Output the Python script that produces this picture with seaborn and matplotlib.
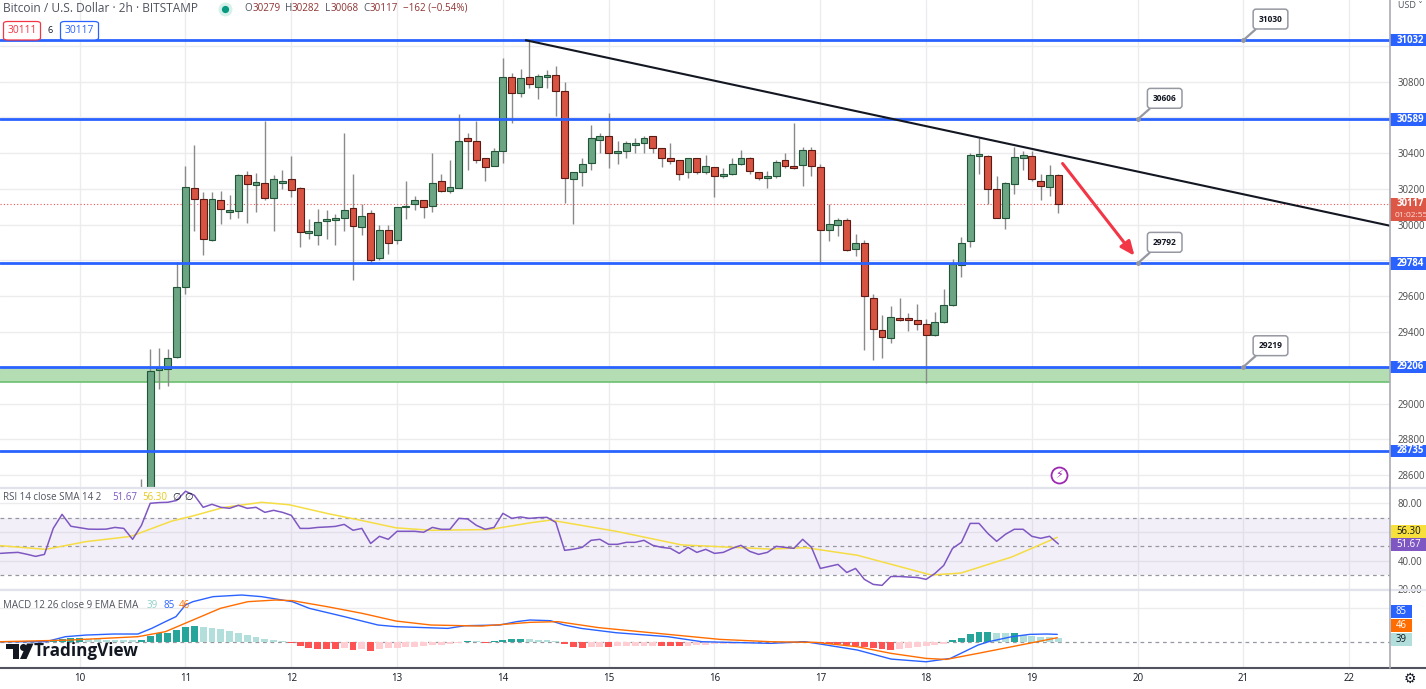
import numpy as np
import pandas as pd
import matplotlib
matplotlib.use("Agg")
import matplotlib.pyplot as plt
import matplotlib.transforms as mtransforms
from matplotlib.patches import Rectangle, FancyBboxPatch, Polygon
from matplotlib.lines import Line2D
import seaborn as sns

W, H = 1426, 689

# ---- candles, 2h, first visible one is 10th 14:00 ----
CANDLE_START = 10 + 14 / 24
opens = [28380, 28450, 29190, 29193, 29260, 29653, 30207, 30146, 29916, 30140,
         30073, 30078, 30280, 30224, 30235, 30151, 30235, 30258, 30207, 29955,
         29944, 30022, 30028, 30040, 30095, 29989, 30067, 29815, 29972, 29916,
         30100, 30118, 30140, 30106, 30246, 30190, 30207, 30482, 30465, 30370,
         30330, 30414, 30823, 30734, 30823, 30767, 30823, 30835, 30750, 30258,
         30297, 30347, 30476, 30498, 30403, 30414, 30448, 30459, 30493, 30426,
         30375, 30364, 30297, 30370, 30297, 30325, 30274, 30286, 30342, 30375,
         30297, 30263, 30274, 30364, 30325, 30336, 30420, 30325, 29972, 30000,
         30028, 29866, 29899, 29591, 29412, 29367, 29479, 29479, 29468, 29445,
         29384, 29457, 29552, 29776, 29910, 30386, 30386, 30202, 30039, 30230,
         30375, 30386, 30246, 30213, 30279]
highs = [28577, 29305, 29310, 29305, 29790, 30330, 30443, 30180, 30180, 30190,
         30168, 30285, 30302, 30291, 30577, 30275, 30308, 30386, 30212, 30034,
         30090, 30084, 30062, 30510, 30286, 30118, 30084, 30000, 30000, 30101,
         30246, 30162, 30140, 30398, 30286, 30364, 30616, 30510, 30577, 30370,
         30431, 30930, 30846, 30868, 31030, 30845, 30863, 30885, 30795, 30297,
         30370, 30555, 30510, 30622, 30470, 30470, 30487, 30498, 30498, 30426,
         30454, 30364, 30375, 30375, 30392, 30325, 30319, 30375, 30420, 30380,
         30297, 30302, 30364, 30398, 30566, 30437, 30437, 30342, 30118, 30039,
         30035, 29950, 29916, 29613, 29496, 29546, 29591, 29507, 29557, 29473,
         29513, 29641, 29810, 29933, 30398, 30482, 30392, 30274, 30240, 30437,
         30414, 30414, 30286, 30336, 30282]
lows = [28300, 28420, 29080, 29100, 29255, 29613, 29966, 29832, 29910, 30005,
        30034, 30040, 30011, 30073, 30140, 29966, 30202, 30157, 29877, 29922,
        29888, 29921, 29888, 29966, 29692, 29944, 29780, 29804, 29838, 29894,
        30034, 30084, 30040, 30073, 30185, 30179, 30207, 30308, 30347, 30246,
        30330, 30347, 30571, 30711, 30762, 30700, 30762, 30610, 30123, 30005,
        30218, 30308, 30403, 30319, 30342, 30375, 30403, 30403, 30403, 30325,
        30342, 30252, 30263, 30286, 30286, 30157, 30263, 30280, 30336, 30286,
        30252, 30207, 30263, 30319, 30314, 30218, 30274, 29782, 29910, 29938,
        29855, 29826, 29300, 29244, 29255, 29339, 29460, 29406, 29412, 29115,
        29380, 29452, 29548, 29708, 29877, 30286, 30118, 30035, 29978, 30174,
        30308, 30246, 30140, 30162, 30068]
closes = [28450, 29182, 29200, 29255, 29653, 30213, 30146, 29922, 30146, 30090,
          30084, 30280, 30230, 30241, 30151, 30258, 30246, 30196, 29960, 29960,
          30017, 30034, 30040, 30084, 29994, 30050, 29804, 29972, 29899, 30101,
          30106, 30140, 30101, 30235, 30190, 30213, 30470, 30465, 30364, 30325,
          30414, 30823, 30734, 30818, 30784, 30829, 30835, 30750, 30263, 30297,
          30342, 30482, 30498, 30403, 30414, 30454, 30459, 30487, 30426, 30375,
          30358, 30286, 30370, 30297, 30330, 30274, 30286, 30342, 30375, 30302,
          30263, 30274, 30353, 30330, 30319, 30420, 30330, 29972, 30005, 30028,
          29860, 29899, 29602, 29417, 29373, 29485, 29468, 29468, 29445, 29384,
          29457, 29552, 29782, 29899, 30392, 30392, 30202, 30039, 30235, 30381,
          30392, 30258, 30218, 30280, 30117]

# ---- indicators on the same 2h grid, starting 9th 06:00 ----
IND_START = 11 - 21 / 12
rsi_vals = [45.1, 45.5, 45.8, 44.5, 43.0, 44.4, 62.5, 72.3, 64.0, 63.0, 62.0, 61.9,
            62.0, 63.2, 62.5, 54.9, 64.6, 80.0, 80.5, 80.7, 82.0,
            88.4, 85.6, 77.2, 79.3, 77.2, 76.5, 78.6, 76.5, 77.2, 73.7, 75.1, 73.7, 71.6,
            62.5, 62.5, 63.2, 63.5, 63.9, 65.3, 61.2, 62.5,
            52.0, 57.0, 54.9, 60.5, 60.5, 60.5, 59.8, 63.2, 61.9, 61.9,
            69.5, 69.1, 64.6, 61.9, 63.2, 73.0, 69.5, 70.5,
            69.5, 70.0, 70.2,
            66.7, 47.2, 48.0, 49.3, 54.2, 54.9, 51.4, 51.4, 52.8, 52.8,
            54.2, 50.7, 49.3, 48.6, 45.1, 49.3, 45.8, 47.9, 45.1, 45.8,
            48.6, 50.7, 46.5, 44.4, 45.8, 50.0, 49.3, 48.6, 54.9, 49.3,
            34.6, 36.0, 37.4, 31.8, 34.6, 27.0, 23.5, 22.8, 29.0, 29.0,
            28.6, 28.3, 27.0, 31.1, 36.7, 48.6, 52.8, 66.0, 66.0, 59.0,
            53.5, 58.4, 61.9, 61.9, 57.0, 55.6, 57.0, 51.67]
hist_vals = [-3, -4, -5, -4, -3, -2,
             20, 35, 40, 42,
             30, 28, 25, 22, 20, 18,
             20, 66, 97, 104, 135, 174, 185,
             174, 162, 147, 124, 104, 77, 58, 31, 19, 8,
             -19, -46, -69, -85, -86, -87, -77, -97, -85, -104, -85, -77, -69, -66,
             -58, -50, -42, -39, -31, -15,
             8, 4, -12, 4, 23, 31, 32, 27, 25, 15, 5,
             -31, -58, -69, -58, -57, -60, -55, -53, -51, -49, -47, -50, -53, -55,
             -45, -40, -36, -32, -28, -24,
             -15, -10, -8, -5, -3, -2, 2, 3, 2,
             -19, -27, -31, -39, -50, -66, -77, -89, -97, -85, -75, -62, -50, -38, -25,
             19, 39, 85, 116, 117, 97, 96, 98, 77, 70, 58, 50, 39]

sma_days = [9.246, 9.68, 10.06, 10.48, 10.87, 11.07, 11.36, 11.72, 11.98, 12.34,
            12.66, 12.99, 13.32, 13.87, 14.26, 14.45, 15.07, 15.69, 16.53, 16.86,
            17.35, 18.05, 18.33, 18.81, 19.24]
sma_vals = [50.5, 47.9, 53.3, 56.9, 67.6, 71.2, 77.1, 80.7, 79.0, 72.9,
            68.1, 62.9, 61.2, 61.7, 66.4, 68.3, 60.5, 51.0, 48.1, 49.1,
            43.8, 30.0, 31.4, 42.6, 56.3]

macd_days = [9.246, 9.68, 9.865, 10.06, 10.32, 10.55, 10.68, 10.81, 10.91, 11.0,
             11.07, 11.26, 11.53, 11.72, 12.01, 12.17, 12.5, 12.82, 12.99, 13.48,
             13.64, 13.97, 14.13, 14.256, 14.45, 14.58, 14.74, 15.07, 15.56, 15.88,
             16.53, 16.86, 17.02, 17.35, 17.67, 18.0, 18.23, 18.49, 18.59, 18.81,
             18.98, 19.14, 19.24]
macd_vals = [0, 0, 58, 77, 89, 89, 154, 232, 290, 425,
             463, 521, 540, 521, 463, 386, 290, 193, 174, 154,
             185, 193, 232, 251, 243, 193, 154, 104, 58, 0,
             -19, 0, -31, -96, -201, -232, -193, -39, 0, 58,
             85, 89, 85]
signal_days = [9.246, 9.9, 10.55, 10.81, 11.07, 11.33, 11.59, 11.85, 12.01, 12.34,
               12.67, 12.99, 13.32, 13.8, 14.256, 14.52, 14.91, 15.56, 16.05, 16.53,
               16.96, 17.35, 17.67, 18.0, 18.19, 18.49, 18.81, 19.24]
signal_vals = [0, 19, 58, 116, 251, 386, 463, 482, 475, 405,
               328, 239, 193, 181, 224, 232, 162, 85, 27, 0,
               -8, -58, -135, -193, -205, -135, -58, 46]

levels = [31032, 30589, 29784, 29206, 28735]
zone_low, zone_high = 29120, 29206
callouts = [(21.0, 31032, "31030"), (20.0, 30589, "30606"),
            (20.0, 29784, "29792"), (21.0, 29206, "29219")]
trend_days = [14.21, 22.385]
trend_prices = [31032, 29994]
arrow_from = (19.29, 30342)
arrow_to = (19.97, 29826)
last_price = 30117
day_ticks = list(range(10, 23))
price_ticks = list(range(28600, 31001, 200))
hidden_ticks = [31000, 30600, 29800, 29200]   # sit under the level boxes

# ---- style ----
sns.set_theme(style="white")
plt.rcParams['font.family'] = ['Open Sans', 'DejaVu Sans']

GRID = '#ececef'
BLUE = '#2962FF'
TXT = '#131722'
GREY_TXT = '#50535e'
XMIN, XMAX = 11 - 185.5 / 105.8, 11 + 1204.5 / 105.8


def fx(px):
    return px / W


def fy(py):
    return 1 - py / H


fig = plt.figure(figsize=(W / 100, H / 100), dpi=100, facecolor='white')
ax = fig.add_axes([0, fy(488), fx(1390), 488 / H])
ax_rsi = fig.add_axes([0, fy(590), fx(1390), 102 / H])
ax_macd = fig.add_axes([0, fy(668), fx(1390), 78 / H])

for a in (ax, ax_rsi, ax_macd):
    a.set_xlim(XMIN, XMAX)
    a.set_xticks(day_ticks)
    a.grid(True, axis='x', color=GRID, lw=1)
    for sp in a.spines.values():
        sp.set_visible(False)
    a.set_facecolor('none')
    a.yaxis.tick_right()
    a.tick_params(axis='both', length=0, labelsize=6.9, labelcolor='#4a4a4a')
    a.tick_params(axis='y', pad=5.5)
    a.set_axisbelow(True)

ax.tick_params(axis='x', labelbottom=False)
ax_rsi.tick_params(axis='x', labelbottom=False)
ax_macd.set_xticklabels([str(d) for d in day_ticks])
ax_macd.tick_params(axis='x', labelsize=7, labelcolor=TXT, pad=3.5)

# ---- main price panel ----
ax.set_ylim(28528, 31256)
ax.set_yticks(price_ticks)
ax.set_yticklabels(['' if t in hidden_ticks else str(t) for t in price_ticks])
ax.grid(True, axis='y', color=GRID, lw=1)

cdays = CANDLE_START + np.arange(len(opens)) / 12
o = np.array(opens, float)
c = np.array(closes, float)
up = c >= o
fills = np.where(up, '#6BA583', '#D75442')
edges = np.where(up, '#225437', '#5B1A13')
ax.axhspan(zone_low, zone_high, color='#B4DDB4', zorder=1.2, lw=0)
ax.axhline(zone_low, color='#6CC070', lw=1.2, zorder=1.3)
ax.vlines(cdays, lows, highs, color='#8a8a8a', lw=1, zorder=3)
ax.bar(cdays, np.maximum(np.abs(c - o), 7), bottom=np.minimum(o, c), width=0.78 / 12,
       color=fills, edgecolor=edges, linewidth=0.8, zorder=4)
ax.axhline(last_price, color='#EF5350', ls=(0, (1, 2)), lw=0.8, zorder=2)
for lev in levels:
    ax.axhline(lev, color=BLUE, lw=2, zorder=5)
ax.plot(trend_days, trend_prices, color=TXT, lw=1.5, zorder=6, solid_capstyle='butt')
ax.annotate('', xy=arrow_to, xytext=arrow_from,
            arrowprops=dict(arrowstyle='-|>,head_length=0.7,head_width=0.3', color='#F23645',
                            lw=2.2, mutation_scale=12, shrinkA=0, shrinkB=0), zorder=7)

for d, lev, lab in callouts:
    ax.plot([d], [lev], marker='o', ms=2.5, color='#9598a1', zorder=8)
    ax.annotate(lab, xy=(d, lev), xytext=(27, 21), textcoords='offset pixels',
                ha='center', va='center', fontsize=6, fontweight='bold', color=TXT,
                bbox=dict(boxstyle='round,pad=0.65,rounding_size=0.35', fc='white',
                          ec='#9598a1', lw=1.1),
                arrowprops=dict(arrowstyle='-', color='#9598a1', lw=1.6, shrinkA=0, shrinkB=0,
                                relpos=(0.15, 0.0)), zorder=9)

# right axis price labels
tr = mtransforms.blended_transform_factory(ax.transAxes, ax.transData)
ppx = 5.589
for lev in levels:
    ax.add_patch(Rectangle((1.0, lev - 6.2 * ppx), 36 / 1390, 12.4 * ppx, transform=tr,
                           fc=BLUE, ec='none', clip_on=False, zorder=20))
    ax.text(1 + 6.5 / 1390, lev, str(lev), transform=tr, ha='left', va='center',
            fontsize=6.9, color='white', fontweight='bold', clip_on=False, zorder=21)
ax.add_patch(Rectangle((1.0, last_price - 17 * ppx), 36 / 1390, 23 * ppx, transform=tr,
                       fc='#DD5746', ec='none', clip_on=False, zorder=20))
ax.text(1 + 6.5 / 1390, last_price, str(last_price), transform=tr, ha='left', va='center',
        fontsize=6.9, color='white', fontweight='bold', clip_on=False, zorder=21)
ax.text(1 + 4.5 / 1390, last_price - 11.5 * ppx, '01:02:55', transform=tr, ha='left',
        va='center', fontsize=6.1, color='#ffe1dd', clip_on=False, zorder=21)

# ---- RSI panel ----
ax_rsi.set_ylim(19.58, 90.66)
ax_rsi.set_yticks([20, 40, 60, 80])
ax_rsi.set_yticklabels(['20.00', '40.00', '', '80.00'])
ax_rsi.grid(True, axis='y', color=GRID, lw=1)
ax_rsi.axhspan(30, 70, color='#7E57C2', alpha=0.09, lw=0, zorder=1)
for v in (30, 50, 70):
    ax_rsi.axhline(v, color='#9598a1', ls=(0, (3, 3)), lw=0.9, zorder=1.5)
ind_days = IND_START + np.arange(len(rsi_vals)) / 12
rsi_df = pd.DataFrame({'day': ind_days, 'rsi': rsi_vals})
sma_df = pd.DataFrame({'day': sma_days, 'sma': sma_vals})
sns.lineplot(data=sma_df, x='day', y='sma', ax=ax_rsi, color='#F5DD43', lw=1.1, zorder=3)
sns.lineplot(data=rsi_df, x='day', y='rsi', ax=ax_rsi, color='#7E57C2', lw=1.1, zorder=4)
ax_rsi.set_xlabel('')
ax_rsi.set_ylabel('')

# ---- MACD panel ----
ax_macd.set_ylim(-304, 598)
ax_macd.set_yticks([])
ax_macd.axhline(390, color=GRID, lw=1, zorder=0.5)
ax_macd.axhline(0, color='#9598a1', ls=(0, (3, 3)), lw=0.9, zorder=1)
hist = np.array(hist_vals, float)
prev = np.concatenate([[hist[0]], hist[:-1]])
hcols = np.where(hist >= 0, np.where(prev < hist, '#26A69A', '#B2DFDB'),
                 np.where(prev < hist, '#FFCDD2', '#FF5252'))
ax_macd.bar(ind_days, hist, width=0.78 / 12, color=hcols, lw=0, zorder=2)
macd_df = pd.DataFrame({'day': macd_days, 'v': macd_vals})
sig_df = pd.DataFrame({'day': signal_days, 'v': signal_vals})
sns.lineplot(data=macd_df, x='day', y='v', ax=ax_macd, color='#2962FF', lw=1, zorder=3)
sns.lineplot(data=sig_df, x='day', y='v', ax=ax_macd, color='#FF6D00', lw=1, zorder=4)
ax_macd.set_xlabel('')
ax_macd.set_ylabel('')


# ---- figure-level decorations ----
def fig_rect(x0, y0, w, h, **kw):
    fig.add_artist(Rectangle((fx(x0), fy(y0 + h)), w / W, h / H, transform=fig.transFigure, **kw))


def fig_line(x0, y0, x1, y1, **kw):
    fig.add_artist(Line2D([fx(x0), fx(x1)], [fy(y0), fy(y1)], transform=fig.transFigure, **kw))


def ftext(x, y, s, **kw):
    kw.setdefault('va', 'center')
    kw.setdefault('ha', 'left')
    fig.text(fx(x), fy(y), s, **kw)


fig_line(0, 488, 1426, 488, color='#e0e3eb', lw=1.6)
fig_line(0, 590, 1426, 590, color='#e0e3eb', lw=1.6)
fig_line(0, 668, 1426, 668, color='#50535e', lw=1.5)
fig_line(1390, 0, 1390, 668, color='#a9abb3', lw=1.2)

# RSI / MACD value boxes
for y0, lab, fc, tc in [(525, '56.30', '#F7E03C', TXT), (538, '51.67', '#7E57C2', 'white')]:
    fig_rect(1391, y0, 35, 12.5, fc=fc, ec='none', zorder=30)
    ftext(1396.5, y0 + 6.3, lab, fontsize=6.9, color=tc, zorder=31)
for y0, lab, fc, tc in [(605, '85', '#2962FF', 'white'), (618.5, '46', '#FF6D00', 'white'),
                        (632.5, '39', '#B2DFDB', TXT)]:
    fig_rect(1391, y0, 21, 13, fc=fc, ec='none', zorder=30)
    ftext(1401.5, y0 + 6.5, lab, fontsize=6.9, color=tc, ha='center', zorder=31)

# header
ftext(3, 8.5, 'Bitcoin / U.S. Dollar · 2h · BITSTAMP', fontsize=8.6, color=GREY_TXT)
fig.add_artist(Line2D([fx(225)], [fy(8.5)], marker='o', ms=9, color='#d6f0ea', transform=fig.transFigure))
fig.add_artist(Line2D([fx(225)], [fy(8.5)], marker='o', ms=4.2, color='#089981', transform=fig.transFigure))
VAL = '#8f3434'
for x, s, col in [(244.5, 'O', GREY_TXT), (253, '30279', VAL), (284.5, 'H', GREY_TXT),
                  (292, '30282', VAL), (325, 'L', GREY_TXT), (331, '30068', VAL),
                  (363, 'C', GREY_TXT), (370, '30117', VAL), (403, '\u2212162 (\u22120.54%)', VAL)]:
    ftext(x, 8.5, s, fontsize=7.1, color=col)
fig.add_artist(FancyBboxPatch((fx(3.5), fy(40)), 37 / W, 18.5 / H, boxstyle='round,pad=0,rounding_size=0.003',
                              transform=fig.transFigure, fc='white', ec='#F23645', lw=0.9, zorder=30))
ftext(22, 30.5, '30111', fontsize=7.4, color='#F23645', ha='center', zorder=31)
ftext(50, 30.5, '6', fontsize=6.5, color=TXT, ha='center', zorder=31)
fig.add_artist(FancyBboxPatch((fx(60.5), fy(40)), 38 / W, 18.5 / H, boxstyle='round,pad=0,rounding_size=0.003',
                              transform=fig.transFigure, fc='white', ec=BLUE, lw=0.9, zorder=30))
ftext(79.5, 30.5, '30117', fontsize=7.4, color=BLUE, ha='center', zorder=31)
ftext(1398, 5, 'USD \u02c5', fontsize=6.5, color=GREY_TXT)

# indicator legends
ftext(3, 497, 'RSI 14 close SMA 14 2', fontsize=7, color=GREY_TXT)
ftext(112, 497, '51.67', fontsize=7, color='#7E57C2')
ftext(142, 497, '56.30', fontsize=7, color='#E8C91F')
ftext(172, 497, '\u2205', fontsize=7, color=TXT)
ftext(184, 497, '\u2205', fontsize=7, color=TXT)
ftext(3, 606, 'MACD 12 26 close 9 EMA EMA', fontsize=7, color=GREY_TXT)
ftext(147, 606, '39', fontsize=7, color='#8fd0c8')
ftext(163, 606, '85', fontsize=7, color='#2962FF')
ftext(179, 606, '46', fontsize=7, color='#FF6D00')

# TradingView logo
fig_rect(6, 643.5, 12.5, 5.5, fc=TXT, ec='none', zorder=30)
fig_rect(12.5, 643.5, 6, 15.5, fc=TXT, ec='none', zorder=30)
fig.add_artist(Line2D([fx(22.5)], [fy(646.5)], marker='o', ms=4, color=TXT, transform=fig.transFigure, zorder=30))
fig.add_artist(Polygon([[fx(27), fy(643.5)], [fx(33.5), fy(643.5)], [fx(26.5), fy(659)], [fx(20), fy(659)]],
                       closed=True, transform=fig.transFigure, fc=TXT, ec='none', zorder=30))
ftext(34, 651.5, 'TradingView', fontsize=12.3, fontweight='bold', color=TXT, zorder=30)

# lightning icon and gear
fig.add_artist(Line2D([fx(1059)], [fy(475)], marker='o', ms=11.5, mfc='white', mec='#9C27B0', mew=1.3,
                      transform=fig.transFigure, zorder=30))
ftext(1059, 475, '\u26a1', fontsize=8, color='#9C27B0', ha='center', family=['DejaVu Sans'], zorder=31)
ftext(1410, 679, '\u2699', fontsize=10, color=TXT, ha='center', family=['DejaVu Sans'])

fig.savefig('out.png', dpi=100, facecolor='white')
